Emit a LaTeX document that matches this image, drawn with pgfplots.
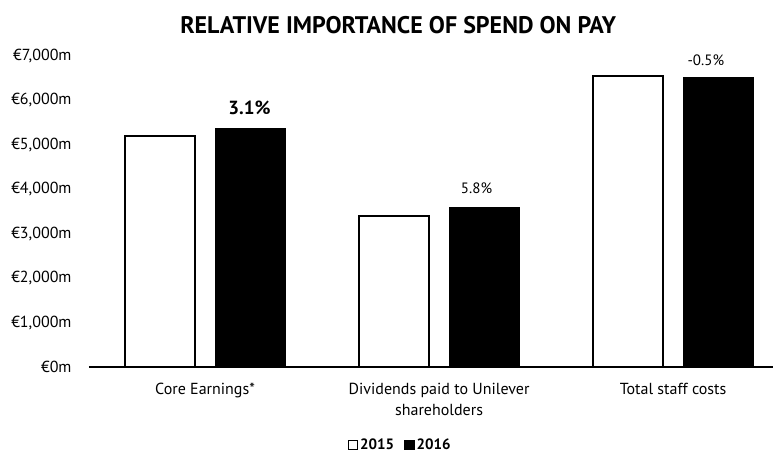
\documentclass[border=0pt]{standalone}
\usepackage{pgfplots}
\pgfplotsset{compat=1.18}
\usepackage{fontspec}
\setmainfont{PT Sans}
\begin{document}
\begin{tikzpicture}
\path[use as bounding box] (-89pt,-86pt) rectangle (684pt,367pt);
\begin{axis}[
  scale only axis,
  width=684pt, height=311pt,
  at={(0pt,0pt)}, anchor=south west,
  xmin=-0.496, xmax=2.427,
  ymin=0, ymax=7000,
  axis x line*=bottom,
  axis y line*=left,
  x axis line style={line width=2.5pt,-},
  y axis line style={draw=none},
  ybar=21pt, bar width=70pt,
  xtick={0,1,2},
  xticklabels={Core Earnings*,{Dividends paid to Unilever\\shareholders},Total staff costs},
  xticklabel style={align=center, font=\fontsize{16}{21}\selectfont, yshift=-13pt},
  major tick length=0pt,
  ytick={0,1000,2000,3000,4000,5000,6000,7000},
  yticklabels={{€0m},{€1,000m},{€2,000m},{€3,000m},{€4,000m},{€5,000m},{€6,000m},{€7,000m}},
  yticklabel style={font=\fontsize{16}{18}\selectfont, anchor=east, xshift=-14pt},
  title={\bfseries RELATIVE IMPORTANCE OF SPEND ON PAY},
  title style={font=\fontsize{24}{26}\selectfont, at={(0.452,1)}, yshift=13pt},
  legend style={at={(0.455,-0.25)}, anchor=center, draw=none, legend columns=2,
    font=\fontsize{15}{16}\selectfont\bfseries, /tikz/every even column/.append style={column sep=8pt}},
  legend image code/.code={\draw[#1, line width=1.5pt] (0pt,-4.5pt) rectangle (9pt,4.5pt);},
  clip=false,
]
\addplot[fill=white, draw=black, line width=2pt] coordinates {(0,5203) (1,3404) (2,6555)};
\addplot[fill=black, draw=black] coordinates {(0,5364) (1,3600) (2,6523)};
\legend{2015,2016}
\node[font=\fontsize{19}{20}\selectfont\bfseries] at (axis cs:0.19,5829) {3.1\%};
\node[font=\fontsize{15}{16}\selectfont] at (axis cs:1.16,4029) {5.8\%};
\node[font=\fontsize{15}{16}\selectfont] at (axis cs:2.14,6910) {-0.5\%};
\end{axis}
\end{tikzpicture}
\end{document}
